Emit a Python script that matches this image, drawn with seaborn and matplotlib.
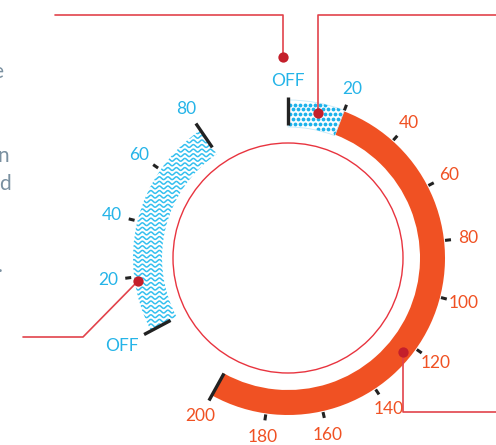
import numpy as np
import pandas as pd
import seaborn as sns
import matplotlib
matplotlib.use('Agg')
import matplotlib.pyplot as plt
from matplotlib.patches import Wedge, Circle

# --- dial data ---------------------------------------------------------
heat_ticks = [20, 40, 60, 80, 100, 120, 140, 160, 180, 200]
heat_labels = ["20", "40", "60", "80", "100", "120", "140", "160", "180", "200"]
heat_low_end = 20        # dotted "OFF..20" section
heat_max = 200

cool_ticks = [20, 40, 60, 80]
cool_labels = ["20", "40", "60", "80"]
cool_max = 80

# compass angle (deg, clockwise from 12 o'clock) of the OFF position of each dial
HEAT_OFF_ANGLE = 0.0
COOL_OFF_ANGLE = 242.0
DEG_PER_UNIT = 1.045

# callout leader lines, in pixel coords (last point gets the dot)
callouts = [
    [(55, 15), (283, 15), (283, 57)],
    [(496, 15), (318, 15), (318, 113)],
    [(23, 337), (83, 337), (138, 281)],
    [(496, 412), (403, 412), (403, 352)],
]

# cut-off body text at the left edge
edge_text = [("e", 3, 72), ("n", 9, 156), ("d", 11, 184), (".", 3, 266)]

ORANGE = "#f05123"
BLUE = "#25b4e8"
WAVE = "#35c0ef"
RED_LINE = "#e2434b"
RED_DOT = "#c41f2b"
TICK = "#222222"
GREY = "#7a90a0"

CX, CY = 288, 258
R_IN, R_OUT = 132, 157
FS = 12.5

sns.set_theme(style="white")
plt.rcParams['font.family'] = ['Lato', 'DejaVu Sans']

fig = plt.figure(figsize=(4.96, 4.45), dpi=100)
ax = fig.add_axes([0, 0, 1, 1])
ax.set_xlim(0, 496)
ax.set_ylim(445, 0)
ax.set_aspect('equal')
ax.axis('off')


def angle(v, start):
    return start + DEG_PER_UNIT * v


def polar(theta, r):
    t = np.radians(theta)
    return CX + r * np.sin(t), CY - r * np.cos(t)


def band(t1, t2, r_in, r_out, **kw):
    return Wedge((CX, CY), r_out, t1 - 90, t2 - 90, width=r_out - r_in, **kw)


def radial(theta, r1, r2, lw=2.2):
    x1, y1 = polar(theta, r1)
    x2, y2 = polar(theta, r2)
    ax.plot([x1, x2], [y1, y2], color=TICK, lw=lw, solid_capstyle='butt', zorder=5)


# inner thin circle
ax.add_patch(Circle((CX, CY), 115, fill=False, ec="#e8343f", lw=1.0))

# orange heat band
ax.add_patch(band(angle(heat_low_end, HEAT_OFF_ANGLE), angle(heat_max, HEAT_OFF_ANGLE),
                  R_IN, R_OUT, fc=ORANGE, ec='none', zorder=2))

# dotted OFF..20 section
t1, t2 = angle(0, HEAT_OFF_ANGLE), angle(heat_low_end, HEAT_OFF_ANGLE)
dot_clip = band(t1, t2, R_IN - 1, R_OUT + 1, fc='none', ec="#c6e9f7", lw=0.6, zorder=2)
ax.add_patch(dot_clip)
gx, gy = np.meshgrid(np.arange(280, 360, 5.0), np.arange(95, 145, 4.8))
gx = gx + (np.round((gy - 95) / 4.8) % 2) * 2.5
pts = pd.DataFrame({"x": gx.ravel(), "y": gy.ravel()})
rr = np.hypot(pts.x - CX, CY - pts.y)
tt = np.degrees(np.arctan2(pts.x - CX, CY - pts.y))
pts = pts[(rr > R_IN) & (rr < R_OUT + 1) & (tt > t1) & (tt < t2)]
sns.scatterplot(data=pts, x="x", y="y", s=7.5, color="#1cb2ea", linewidth=0, ax=ax, zorder=3)
ax.collections[-1].set_clip_path(dot_clip)

# wavy cool section
c1, c2 = angle(0, COOL_OFF_ANGLE), angle(cool_max, COOL_OFF_ANGLE)
wave_clip = band(c1, c2, 126, 155, fc='none', ec='none')
ax.add_patch(wave_clip)
xs = np.linspace(100, 240, 700)
for y0 in np.arange(100, 345, 4.6):
    ln, = ax.plot(xs, y0 + 1.4 * np.sin(2 * np.pi * xs / 8.5), color=WAVE, lw=1.1, zorder=3)
    ln.set_clip_path(wave_clip)

# ticks
for v in heat_ticks[:-1]:
    radial(angle(v, HEAT_OFF_ANGLE), 158, 164)
radial(angle(heat_max, HEAT_OFF_ANGLE), 132, 163, lw=2.4)
radial(HEAT_OFF_ANGLE, 133, 161, lw=2.4)
for v in cool_ticks[:-1]:
    radial(angle(v, COOL_OFF_ANGLE), 158, 164)
radial(angle(cool_max, COOL_OFF_ANGLE), 134, 163, lw=2.4)
radial(COOL_OFF_ANGLE, 133, 163, lw=2.4)

# labels
for v, lab in zip(heat_ticks, heat_labels):
    col = BLUE if v <= heat_low_end else ORANGE
    x, y = polar(angle(v, HEAT_OFF_ANGLE), 181)
    ax.text(x, y, lab, color=col, fontsize=FS, ha='center', va='center')
x, y = polar(HEAT_OFF_ANGLE, 177)
ax.text(x, y, "OFF", color=BLUE, fontsize=FS, ha='center', va='center')
for v, lab in zip(cool_ticks, cool_labels):
    x, y = polar(angle(v, COOL_OFF_ANGLE), 181)
    ax.text(x, y, lab, color=BLUE, fontsize=FS, ha='center', va='center')
x, y = polar(COOL_OFF_ANGLE, 188)
ax.text(x, y, "OFF", color=BLUE, fontsize=FS, ha='center', va='center')

# callouts
for path in callouts:
    px, py = zip(*path)
    ax.plot(px, py, color=RED_LINE, lw=1.2, zorder=6)
dots = pd.DataFrame([p[-1] for p in callouts], columns=["x", "y"])
sns.scatterplot(data=dots, x="x", y="y", s=55, color=RED_DOT, linewidth=0, ax=ax, zorder=7)

# partial words of the neighbouring body text (cut by the left edge)
for ch, x, y in edge_text:
    ax.text(x, y, ch, color=GREY, fontsize=15, ha='right', va='center')

fig.savefig("out.png", dpi=100)
